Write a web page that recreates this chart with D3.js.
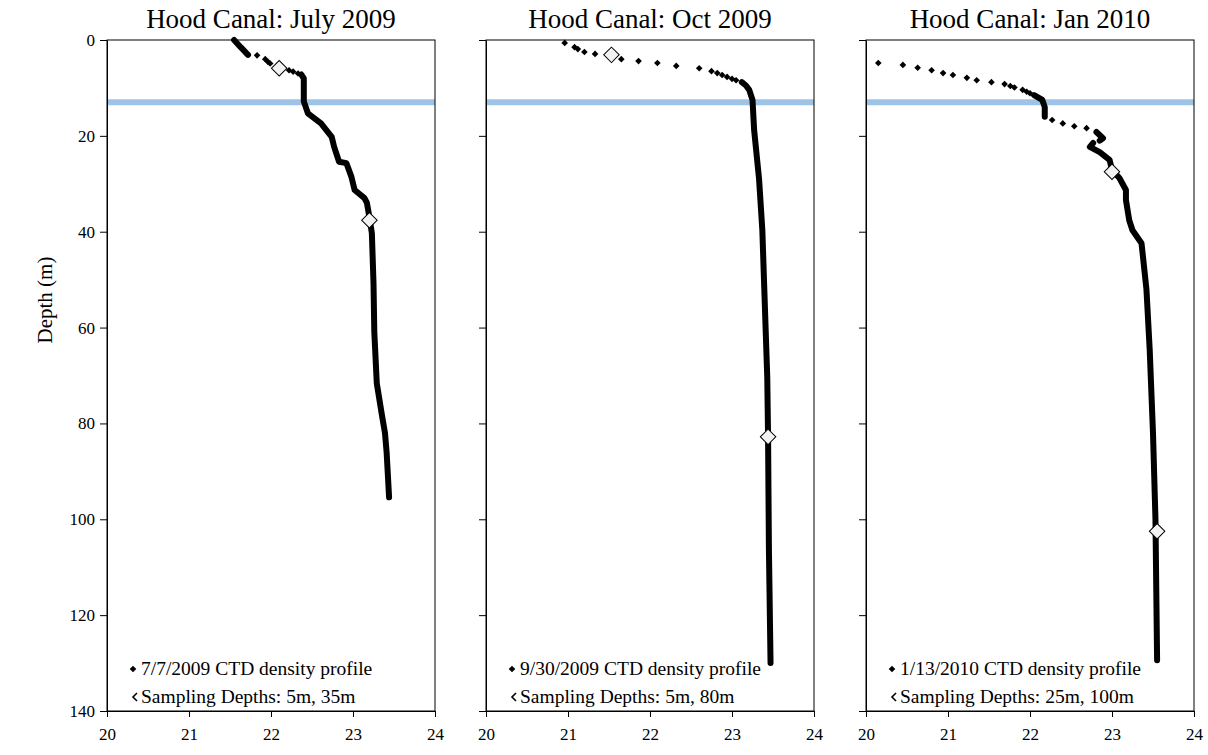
<!DOCTYPE html>
<html>
<head>
<meta charset="utf-8">
<script src="https://cdn.jsdelivr.net/npm/d3@7"></script>
<style>
  body { margin: 0; background: #fff; }
  text { font-family: "Liberation Serif", "Times New Roman", serif; fill: #000; }
  .tick text { font-size: 17px; }
</style>
</head>
<body>
<div id="chart"></div>
<script>
// axis ticks
const densityTicks = [20, 21, 22, 23, 24];
const depthTicks = [0, 20, 40, 60, 80, 100, 120, 140];

// panel texts
const panelTitles = ['Hood Canal: July 2009', 'Hood Canal: Oct 2009', 'Hood Canal: Jan 2010'];
const profileLabels = ['7/7/2009 CTD density profile', '9/30/2009 CTD density profile', '1/13/2010 CTD density profile'];
const samplingLabels = ['Sampling Depths: 5m, 35m', 'Sampling Depths: 5m, 80m', 'Sampling Depths: 25m, 100m'];

// mixed layer reference depth (m)
const pycnoclineDepth = 13;

// [depth m, density sigma-t]; sparse casts as dots, dense parts as traces
const julyDots = [[3.2, 21.83], [4.0, 21.93], [4.5, 21.96], [4.9, 21.99], [6.3, 22.22], [6.6, 22.27], [7.0, 22.33]];
const julyTrace = [
  [[0, 21.55], [1.5, 21.63], [3.1, 21.72]],
  [[7.2, 22.37], [8, 22.4], [12.8, 22.4], [15.3, 22.45], [17.4, 22.61], [20.2, 22.74], [22.3, 22.77], [25.4, 22.83],
   [25.7, 22.92], [28.5, 22.98], [31.3, 23.02], [33, 23.14], [34, 23.17], [36, 23.19], [40.3, 23.23], [50.7, 23.25],
   [61, 23.26], [71.6, 23.29], [78, 23.35], [82, 23.39], [86, 23.41], [95.4, 23.44]]
];
const julySamples = [[5.9, 22.1], [37.6, 23.2]];

const octDots = [[0.6, 20.96], [1.5, 21.08], [1.9, 21.12], [2.5, 21.2], [2.9, 21.33], [4, 21.65], [4.4, 21.86], [4.8, 22.09],
  [5.4, 22.32], [5.9, 22.6], [6.5, 22.75], [6.9, 22.82], [7.3, 22.88], [7.7, 22.94], [8.1, 23.0], [8.4, 23.05]];
const octTrace = [
  [[8.8, 23.12], [9.5, 23.17], [10.4, 23.21], [12.5, 23.25], [18.8, 23.27], [29, 23.33], [39.7, 23.37], [50, 23.39],
   [70.4, 23.43], [83, 23.44], [106, 23.45], [130, 23.47]]
];
const octSamples = [[3.1, 21.53], [82.8, 23.44]];

const janDots = [[4.8, 20.15], [5.2, 20.45], [5.8, 20.63], [6.3, 20.8], [6.9, 20.94], [7.3, 21.06], [7.9, 21.23], [8.4, 21.35],
  [8.8, 21.53], [9.2, 21.69], [9.6, 21.76], [9.9, 21.81], [10.4, 21.91], [10.8, 21.96], [11.1, 22.0],
  [16.7, 22.27], [17.4, 22.4], [18, 22.54], [18.4, 22.69]];
const janTrace = [
  [[11.5, 22.05], [12.5, 22.15], [14, 22.18], [16, 22.18]],
  [[19.2, 22.81], [20.5, 22.89], [21, 22.85]],
  [[21.5, 22.77], [22.3, 22.73], [23.4, 22.85], [25, 22.97], [27.1, 23.0], [28.8, 23.09], [31.3, 23.17], [33.4, 23.17],
   [37.6, 23.21], [39.7, 23.25], [42.4, 23.36], [52, 23.42], [64.7, 23.46], [82, 23.5], [100, 23.53], [129.4, 23.55]]
];
const janSamples = [[27.5, 23.0], [102.5, 23.55]];

const panels = [
  { dots: julyDots, trace: julyTrace, samples: julySamples },
  { dots: octDots, trace: octTrace, samples: octSamples },
  { dots: janDots, trace: janTrace, samples: janSamples }
];

const width = 1208;
const height = 755;
const panelLefts = [107, 486, 866];
const plotW = 328;
const plotTop = 40;
const plotH = 671;

const svg = d3.select('#chart').append('svg').attr('width', width).attr('height', height);

const y = d3.scaleLinear().domain([0, 140]).range([plotTop, plotTop + plotH]);

panels.forEach((p, i) => {
  const left = panelLefts[i];
  const x = d3.scaleLinear().domain([20, 24]).range([left, left + plotW]);
  const line = d3.line().x(d => x(d[1])).y(d => y(d[0]));
  const g = svg.append('g');

  // pycnocline reference line
  g.append('line')
    .attr('x1', left).attr('x2', left + plotW)
    .attr('y1', y(pycnoclineDepth)).attr('y2', y(pycnoclineDepth))
    .attr('stroke', '#9dc3e6').attr('stroke-width', 6);

  // plot frame
  g.append('rect')
    .attr('x', left).attr('y', plotTop).attr('width', plotW).attr('height', plotH)
    .attr('fill', 'none').attr('stroke', '#000').attr('stroke-width', 1);

  const xAxis = d3.axisBottom(x).tickValues(densityTicks).tickSize(6).tickSizeOuter(0).tickFormat(d3.format('d'));
  const xg = g.append('g').attr('transform', `translate(0,${plotTop + plotH})`).call(xAxis);
  xg.selectAll('text').attr('dy', '1.2em');

  const yAxis = d3.axisLeft(y).tickValues(depthTicks).tickSize(7).tickSizeOuter(0)
    .tickFormat(i === 0 ? d3.format('d') : () => '');
  const yg = g.append('g').attr('transform', `translate(${left},0)`).call(yAxis);
  yg.selectAll('text').attr('x', -12);
  g.selectAll('.domain').attr('stroke', '#000');
  g.selectAll('.tick line').attr('stroke', '#000');

  // dense parts of the cast
  g.selectAll('path.trace').data(p.trace).enter().append('path')
    .attr('class', 'trace')
    .attr('d', line)
    .attr('fill', 'none').attr('stroke', '#000').attr('stroke-width', 6)
    .attr('stroke-linejoin', 'round').attr('stroke-linecap', 'round');

  // individual readings
  g.selectAll('path.dot').data(p.dots).enter().append('path')
    .attr('class', 'dot')
    .attr('d', d3.symbol(d3.symbolSquare, 22))
    .attr('transform', d => `translate(${x(d[1])},${y(d[0])}) rotate(45)`)
    .attr('fill', '#000');

  // sampling depths
  g.selectAll('path.sample').data(p.samples).enter().append('path')
    .attr('class', 'sample')
    .attr('d', d3.symbol(d3.symbolSquare, 120))
    .attr('transform', d => `translate(${x(d[1])},${y(d[0])}) rotate(45)`)
    .attr('fill', '#f2f2f2').attr('stroke', '#000').attr('stroke-width', 1);

  // title
  g.append('text')
    .attr('x', left + plotW / 2).attr('y', 28)
    .attr('text-anchor', 'middle').attr('font-size', 27)
    .text(panelTitles[i]);

  // legend
  const lx = left + 26;
  g.append('path')
    .attr('d', d3.symbol(d3.symbolSquare, 22))
    .attr('transform', `translate(${lx},${669}) rotate(45)`)
    .attr('fill', '#000');
  g.append('text').attr('x', lx + 8).attr('y', 675).attr('font-size', 19.5).text(profileLabels[i]);
  g.append('path')
    .attr('d', `M${lx + 4},${693} L${lx},${697} L${lx + 4},${701}`)
    .attr('fill', 'none').attr('stroke', '#000').attr('stroke-width', 1.6);
  g.append('text').attr('x', lx + 8).attr('y', 703).attr('font-size', 19.5).text(samplingLabels[i]);
});

// shared y label
svg.append('text')
  .attr('transform', `translate(52,300) rotate(-90)`)
  .attr('text-anchor', 'middle').attr('font-size', 21)
  .text('Depth (m)');
</script>
</body>
</html>
